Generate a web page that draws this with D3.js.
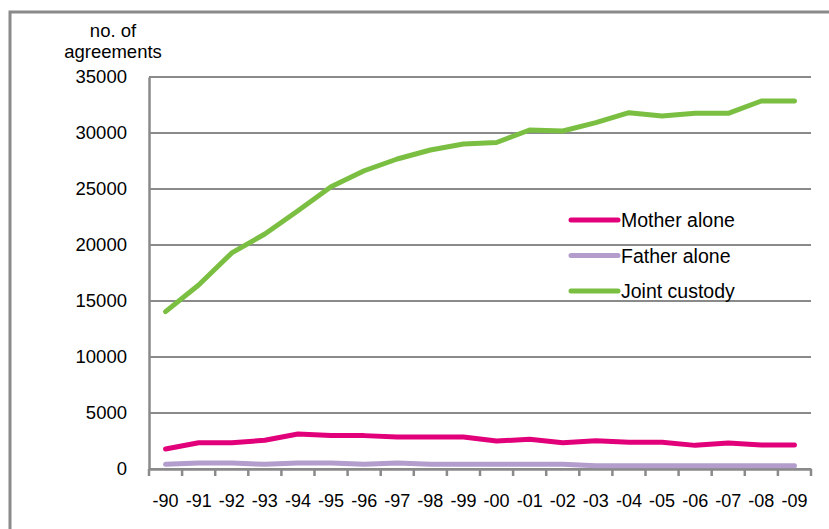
<!DOCTYPE html>
<html>
<head>
<meta charset="utf-8">
<script src="https://cdn.jsdelivr.net/npm/d3@7"></script>
<style>
  body { margin: 0; background: #fff; }
  svg { display: block; font-family: "Liberation Sans", Arial, sans-serif; }
</style>
</head>
<body>
<svg width="829" height="529"></svg>
<script>
// data
const years = ['-90','-91','-92','-93','-94','-95','-96','-97','-98','-99',
               '-00','-01','-02','-03','-04','-05','-06','-07','-08','-09'];
const motherAlone = [1790, 2350, 2350, 2560, 3120, 3000, 2980, 2860, 2860, 2860,
                     2500, 2650, 2350, 2530, 2380, 2380, 2110, 2320, 2140, 2140];
const fatherAlone = [420, 530, 530, 420, 530, 530, 420, 530, 430, 430,
                     430, 430, 430, 300, 300, 300, 280, 280, 280, 280];
const jointCustody = [14050, 16430, 19290, 20980, 23060, 25200, 26630, 27680, 28480, 29020,
                      29150, 30270, 30180, 30920, 31810, 31520, 31760, 31760, 32860, 32860];
const yTicks = [0, 5000, 10000, 15000, 20000, 25000, 30000, 35000];

const series = [
    { name: 'Mother alone', values: motherAlone, color: '#e2007a' },
    { name: 'Father alone', values: fatherAlone, color: '#b29dcc' },
    { name: 'Joint custody', values: jointCustody, color: '#7bbf42' }
];

const svg = d3.select('svg');
const plotL = 149, plotR = 811, plotT = 77, plotB = 469;
const grey = '#8a8a8a';

// outer frame (runs off the picture on the right and bottom)
svg.append('rect')
    .attr('x', 10).attr('y', 12).attr('width', 840).attr('height', 540)
    .attr('fill', 'none').attr('stroke', grey).attr('stroke-width', 3);

const x = d3.scaleBand().domain(years).range([plotL, plotR]);
const y = d3.scaleLinear().domain([0, 35000]).range([plotB, plotT]);

// gridlines
svg.append('g').selectAll('line')
    .data(yTicks)
    .join('line')
    .attr('x1', plotL).attr('x2', plotR)
    .attr('y1', d => y(d)).attr('y2', d => y(d))
    .attr('stroke', grey).attr('stroke-width', 2);

// y axis
const yAxis = svg.append('g')
    .attr('transform', `translate(${plotL},0)`)
    .call(d3.axisLeft(y).tickValues(yTicks).tickSize(0).tickPadding(22).tickFormat(d3.format('d')));
yAxis.select('.domain').attr('stroke', grey).attr('stroke-width', 2.5);
yAxis.selectAll('text').attr('font-size', 18.5).attr('fill', '#000')
    .style('font-family', '"Liberation Sans", Arial, sans-serif');

// x axis with ticks between categories
const xAxis = svg.append('g')
    .attr('transform', `translate(0,${plotB})`)
    .call(d3.axisBottom(x).tickSize(0).tickPadding(25));
xAxis.select('.domain').attr('stroke', grey).attr('stroke-width', 2.5);
xAxis.selectAll('text').attr('font-size', 18).attr('fill', '#000')
    .style('font-family', '"Liberation Sans", Arial, sans-serif');

const bounds = years.map(d => x(d)).concat([plotR]);
xAxis.selectAll('line.sep')
    .data(bounds)
    .join('line')
    .attr('class', 'sep')
    .attr('x1', d => d).attr('x2', d => d)
    .attr('y1', 0).attr('y2', 7)
    .attr('stroke', grey).attr('stroke-width', 2.5);

// axis title
const title = svg.append('text')
    .attr('x', 113).attr('text-anchor', 'middle')
    .attr('font-size', 18.5).attr('fill', '#000');
title.append('tspan').attr('x', 113).attr('y', 37).text('no. of');
title.append('tspan').attr('x', 113).attr('y', 58).text('agreements');

// lines
const line = d3.line()
    .x((d, i) => x(years[i]) + x.bandwidth() / 2)
    .y(d => y(d));

svg.append('g').selectAll('path')
    .data(series)
    .join('path')
    .attr('d', d => line(d.values))
    .attr('fill', 'none')
    .attr('stroke', d => d.color)
    .attr('stroke-width', 5)
    .attr('stroke-linejoin', 'round')
    .attr('stroke-linecap', 'round');

// legend
const legend = svg.append('g').selectAll('g')
    .data(series)
    .join('g')
    .attr('transform', (d, i) => `translate(571,${220 + i * 35.5})`);
legend.append('line')
    .attr('x1', 0).attr('x2', 47)
    .attr('stroke', d => d.color).attr('stroke-width', 5)
    .attr('stroke-linecap', 'round');
legend.append('text')
    .attr('x', 50).attr('dy', '0.36em')
    .attr('font-size', 19.5).attr('fill', '#000')
    .text(d => d.name);
</script>
</body>
</html>
